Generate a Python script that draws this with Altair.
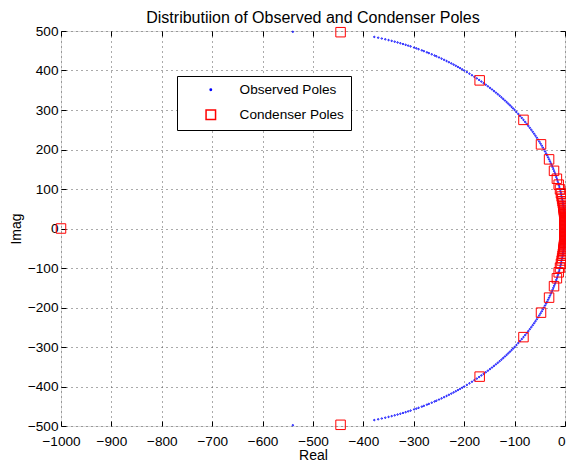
import altair as alt
import pandas as pd

# ---- data (upper half; lower half is the conjugate) ----
obs_imag = [0, 5, 10, 15, 20, 25, 30, 35, 40, 45, 50, 55, 60, 65, 70, 75, 80, 85, 90, 95, 100,
            105, 110, 115, 120, 125, 130, 135, 140, 145, 150, 155, 160, 165, 170, 175, 180, 185, 190, 195, 200,
            205, 210, 215, 220, 225, 230, 235, 240, 245, 250, 255, 260, 265, 270, 275, 280, 285, 290, 295, 300,
            304, 308, 312, 316, 320, 324, 328, 332, 336, 340, 344, 348, 352, 356, 360, 364, 368, 372, 376, 380,
            384, 388, 392, 396, 400,
            403, 406, 409, 412, 415, 418, 421, 424, 427, 430, 433, 436, 438, 441, 444, 446, 449, 451, 454, 456,
            458, 461, 463, 465, 467, 469, 471, 473, 475, 477, 479, 481, 483, 485, 498]
obs_real = [0, 0, -0.1, -0.2, -0.4, -0.6, -0.9, -1.2, -1.6, -2.0, -2.5, -3.0, -3.6, -4.2, -4.9, -5.7, -6.4, -7.3, -8.2, -9.1, -10.1,
            -11.1, -12.3, -13.4, -14.6, -15.9, -17.2, -18.6, -20.0, -21.5, -23.0, -24.6, -26.3, -28.0, -29.8, -31.6, -33.5, -35.5, -37.5, -39.6, -41.7,
            -44.0, -46.2, -48.6, -51.0, -53.5, -56.0, -58.7, -61.4, -64.1, -67.0, -69.9, -72.9, -76.0, -79.2, -82.4, -85.8, -89.2, -92.7, -96.3, -100.0,
            -103.0, -106.1, -109.3, -112.5, -115.8, -119.2, -122.6, -126.1, -129.7, -133.4, -137.1, -141.0, -144.9, -148.9, -153.0, -157.2, -161.5, -165.9, -170.4, -175.0,
            -179.8, -184.6, -189.6, -194.7, -200.0,
            -204.0, -208.2, -212.4, -216.7, -221.1, -225.6, -230.3, -235.0, -239.9, -244.9, -250.0, -255.2, -258.8, -264.4, -270.1, -274.0, -280.0, -284.1, -290.5, -294.9,
            -299.4, -306.4, -311.2, -316.2, -321.4, -326.7, -332.2, -337.9, -343.9, -350.1, -356.6, -363.5, -370.7, -378.4, -540.0]

cond_imag = [497, 375, 275, 213, 175, 146, 126, 111, 99, 89, 81, 75, 69, 64, 60, 56, 53, 50, 47, 45, 42, 40,
             38, 36, 34, 32, 30, 28, 26, 24, 22, 20, 18, 16, 14, 12, 10, 8, 6, 4, 2]
cond_real = [-445.3, -169.3, -82.4, -47.6, -31.6, -21.8, -16.1, -12.5, -9.9, -8.0, -6.6, -5.7, -4.8, -4.1, -3.6, -3.15,
             -2.8, -2.5, -2.2, -2.0, -1.8, -1.6, -1.4, -1.3, -1.2, -1.0, -0.9, -0.8, -0.7, -0.6, -0.5, -0.4, -0.3, -0.3,
             -0.2, -0.1, -0.1, -0.1, 0, 0, 0]
cond_real_axis = [-1000.0, 0.0]   # real-axis condenser poles
cond_imag_axis = [0.0, 0.0]

x_ticks = [-1000, -900, -800, -700, -600, -500, -400, -300, -200, -100, 0]
y_ticks = [-500, -400, -300, -200, -100, 0, 100, 200, 300, 400, 500]

series = ["Observed Poles", "Condenser Poles"]

rows = []
for r, i in zip(obs_real, obs_imag):
    rows.append({"re": r, "im": i, "s": series[0]})
    if i != 0:
        rows.append({"re": r, "im": -i, "s": series[0]})
for r, i in zip(cond_real, cond_imag):
    rows.append({"re": r, "im": i, "s": series[1]})
    rows.append({"re": r, "im": -i, "s": series[1]})
for r, i in zip(cond_real_axis, cond_imag_axis):
    rows.append({"re": r, "im": i, "s": series[1]})
df = pd.DataFrame(rows)

W, H = 504, 395
FONT = "Liberation Sans"

xs = alt.Scale(domain=[-1000, 0], nice=False, zero=False)
ys = alt.Scale(domain=[-500, 500], nice=False, zero=False)

ax_x = alt.Axis(values=x_ticks, format="d", title="Real", grid=True, domain=False, ticks=False, tickSize=0,
                labelPadding=8, titlePadding=1, labelFontSize=13.6, titleFontSize=14,
                labelColor="black", titleColor="black", titleFontWeight="normal",
                gridColor="#555", gridDash=[1, 4], gridWidth=1, labelFont=FONT, titleFont=FONT,
                labelFlush=False, labelOverlap=False,
                labelAlign=alt.condition("datum.value == 0", alt.value("right"), alt.value("center")))
ax_y = alt.Axis(values=y_ticks, format="d", title="Imag", grid=True, domain=False, ticks=False, tickSize=0,
                labelPadding=3, titlePadding=4, labelFontSize=13.6, titleFontSize=14,
                labelColor="black", titleColor="black", titleFontWeight="normal",
                gridColor="#555", gridDash=[1, 4], gridWidth=1, labelFont=FONT, titleFont=FONT,
                labelFlush=False, labelOverlap=False)

legend = alt.Legend(title=None, orient="none", legendX=116, legendY=45,
                    fillColor="white", strokeColor="black", padding=7, cornerRadius=0,
                    labelFontSize=13.6, labelFont=FONT, labelColor="black", labelLimit=400,
                    symbolOffset=20, labelOffset=22, rowPadding=10)

main = alt.Chart(df).mark_point(filled=False, strokeWidth=1, opacity=1).encode(
    x=alt.X("re:Q", scale=xs, axis=ax_x),
    y=alt.Y("im:Q", scale=ys, axis=ax_y),
    color=alt.Color("s:N", scale=alt.Scale(domain=series, range=["#0000ff", "#ff0000"]), legend=legend),
    shape=alt.Shape("s:N", scale=alt.Scale(domain=series, range=["circle", "square"]), legend=legend),
    size=alt.Size("s:N", scale=alt.Scale(domain=series, range=[2, 90]), legend=legend),
)

def tick_axis(orient, off, vals):
    return alt.Axis(orient=orient, offset=off, values=vals, labels=False, domain=False, grid=False,
                    ticks=True, tickSize=5, tickColor="black", tickWidth=1, title=None)

tick_df = pd.DataFrame({"re": [-1000, 0], "im": [-500, 500]})
ticks1 = alt.Chart(tick_df).mark_point(opacity=0).encode(
    x=alt.X("re:Q", scale=xs, axis=tick_axis("top", -H, x_ticks)),
    y=alt.Y("im:Q", scale=ys, axis=tick_axis("right", -W, y_ticks)),
)
ticks2 = alt.Chart(tick_df).mark_point(opacity=0).encode(
    x=alt.X("re:Q", scale=xs, axis=tick_axis("bottom", -H, x_ticks)),
    y=alt.Y("im:Q", scale=ys, axis=tick_axis("left", -W, y_ticks)),
)

chart = alt.layer(ticks1, ticks2, main).resolve_axis(x="independent", y="independent").properties(
    width=W, height=H,
    title=alt.TitleParams("Distributiion of Observed and Condenser Poles", fontSize=16, font=FONT,
                          fontWeight="normal", color="black", offset=1, dy=3, anchor="middle",
                          frame="group"),
    autosize=alt.AutoSizeParams(type="none"),
    padding={"left": 53, "top": 23, "right": 1, "bottom": 37},
).configure_view(stroke="black", strokeWidth=1).configure(background="white")

chart.save("out.html", embed_options={"renderer": "svg", "actions": False})
